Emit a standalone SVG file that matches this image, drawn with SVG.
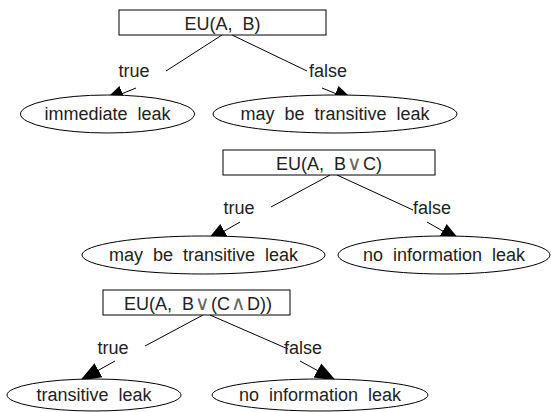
<svg xmlns="http://www.w3.org/2000/svg" width="551" height="412" viewBox="0 0 551 412">
<style>
  text { font-family: "Liberation Sans", Arial, sans-serif; font-size: 18px; fill: #222; text-anchor: middle; word-spacing: 5px; }
  .box { fill: #fff; stroke: #000; stroke-width: 1; }
  .ell { fill: #fff; stroke: #000; stroke-width: 1; }
  .edge { fill: none; stroke: #000; stroke-width: 1; }
  .arr { fill: none; stroke: #000; stroke-width: 1; marker-end: url(#ah); }
  .sym { font-family: "DejaVu Sans", sans-serif; font-weight: 200; font-size: 20px; fill: #666; }
</style>
<defs>
  <marker id="ah" markerUnits="userSpaceOnUse" markerWidth="22" markerHeight="18" refX="20" refY="9" orient="auto">
    <path d="M0,1 L21,9 L0,17 z" fill="#000"/>
  </marker>
</defs>
<rect width="551" height="412" fill="#fff"/>

<g id="connectors">
  <path class="edge" d="M222,35 L166,71"/>
  <path class="arr" d="M136,88 L104,101"/>
  <path class="edge" d="M232,35 L307,71"/>
  <path class="arr" d="M322,88 L354,101"/>
  <text x="134" y="77">true</text>
  <text x="328" y="77">false</text>

  <path class="edge" d="M330,175 L271,207"/>
  <path class="arr" d="M240,222 L207,241"/>
  <path class="edge" d="M337,175 L413,210"/>
  <path class="arr" d="M427,222 L460,241"/>
  <text x="239" y="214">true</text>
  <text x="432" y="214">false</text>

  <path class="edge" d="M203,315 L145,346"/>
  <path class="arr" d="M115,361 L81,380"/>
  <path class="edge" d="M210,315 L288,349"/>
  <path class="arr" d="M300,361 L335,380"/>
  <text x="113" y="354">true</text>
  <text x="303" y="354">false</text>
</g>

<g id="n1">
  <rect class="box" x="119" y="10" width="207" height="25"/>
  <text x="222.5" y="30">EU(A, B)</text>
</g>
<g id="n1t">
  <ellipse class="ell" cx="107.5" cy="114" rx="87" ry="19"/>
  <text x="107.5" y="120">immediate leak</text>
</g>
<g id="n1f">
  <ellipse class="ell" cx="335" cy="114" rx="122" ry="19"/>
  <text x="335" y="120">may be transitive leak</text>
</g>

<g id="n2">
  <rect class="box" x="223" y="150" width="212" height="25"/>
  <text x="329" y="170">EU(A, B<tspan class="sym" dx="1">∨</tspan><tspan dx="1">C)</tspan></text>
</g>
<g id="n2t">
  <ellipse class="ell" cx="203.5" cy="255" rx="121.5" ry="19"/>
  <text x="203.5" y="261">may be transitive leak</text>
</g>
<g id="n2f">
  <ellipse class="ell" cx="444" cy="255" rx="106" ry="19"/>
  <text x="444" y="261">no information leak</text>
</g>

<g id="n3">
  <rect class="box" x="103" y="290" width="187" height="25"/>
  <text x="198" y="310">EU(A, B<tspan class="sym" dx="1">∨</tspan><tspan dx="1">(C</tspan><tspan class="sym" dx="1">∧</tspan><tspan dx="1">D))</tspan></text>
</g>
<g id="n3t">
  <ellipse class="ell" cx="94" cy="395" rx="87" ry="16"/>
  <text x="94" y="401">transitive leak</text>
</g>
<g id="n3f">
  <ellipse class="ell" cx="320" cy="395" rx="108" ry="16"/>
  <text x="320" y="401">no information leak</text>
</g>
</svg>
